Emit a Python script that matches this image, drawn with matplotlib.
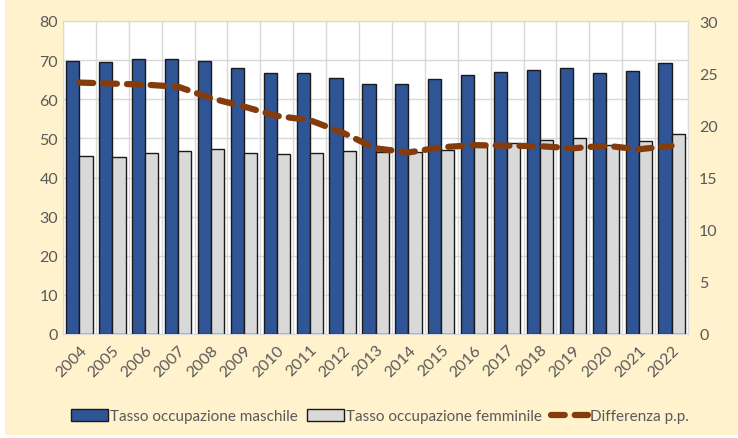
import numpy as np
import matplotlib
matplotlib.use("Agg")
from matplotlib import pyplot as plt
from matplotlib.patches import Rectangle

anni = [str(y) for y in range(2004, 2023)]
maschile = [69.7, 69.5, 70.2, 70.4, 69.9, 67.9, 66.7, 66.6, 65.5, 63.8,
            64.0, 65.2, 66.2, 67.0, 67.5, 68.1, 66.6, 67.2, 69.3]
femminile = [45.5, 45.3, 46.3, 46.7, 47.2, 46.3, 46.0, 46.3, 46.8, 46.4,
             46.6, 47.0, 48.1, 48.9, 49.5, 50.1, 48.4, 49.3, 51.1]
differenza = [24.1, 24.0, 23.9, 23.7, 22.6, 21.8, 20.9, 20.5, 19.3, 17.8,
              17.4, 17.9, 18.1, 18.05, 18.0, 17.8, 18.05, 17.7, 18.05]

plt.rcParams["font.family"] = ["Lato", "DejaVu Sans"]
grigio = "#595959"
sfondo = "#FFF2CC"

fig = plt.figure(figsize=(7.38, 4.39), dpi=100, facecolor=sfondo)
# thin white strips at the left and bottom edges
fig.patches.append(Rectangle((0, 0), 5 / 738, 1, transform=fig.transFigure,
                             facecolor="white", edgecolor="none"))
fig.patches.append(Rectangle((0, 0), 1, 3 / 439, transform=fig.transFigure,
                             facecolor="white", edgecolor="none"))

ax = fig.add_axes([63 / 738, 104 / 439, 625 / 738, 313 / 439])
ax.set_facecolor("white")

x = np.arange(len(anni))
w = 0.4
b1 = ax.bar(x - w / 2, maschile, w, color="#2F5597", edgecolor="#1a1a1a",
            linewidth=1, label="Tasso occupazione maschile", zorder=3)
b2 = ax.bar(x + w / 2, femminile, w, color="#D9D9D9", edgecolor="#1a1a1a",
            linewidth=1, label="Tasso occupazione femminile", zorder=3)

ax.set_xlim(-0.5, len(anni) - 0.5)
ax.set_ylim(0, 80)
ax.set_yticks(range(0, 81, 10))
ax.set_xticks(x)
ax.set_xticklabels(anni, rotation=45, ha="right", rotation_mode="anchor")
ax.set_xticks(np.arange(-0.5, len(anni), 1), minor=True)
ax.grid(axis="y", color="#D9D9D9", linewidth=1, zorder=0)
ax.grid(axis="x", which="minor", color="#D9D9D9", linewidth=1, zorder=0)
ax.tick_params(axis="both", which="both", length=0, colors=grigio,
               labelsize=11.5)
ax.tick_params(axis="x", pad=6)
for s in ax.spines.values():
    s.set_color("#D9D9D9")

ax2 = ax.twinx()
ax2.set_ylim(0, 30)
ax2.set_yticks(range(0, 31, 5))
ln, = ax2.plot(x, differenza, color="#843C0C", linewidth=4.5,
               dashes=(2.2, 1.6), dash_capstyle="round",
               label="Differenza p.p.", zorder=4)
ax2.tick_params(axis="y", length=0, colors=grigio, labelsize=11.5, pad=8)
for s in ax2.spines.values():
    s.set_visible(False)

fig.legend(handles=[b1, b2, ln], loc="center", bbox_to_anchor=(0.515, 22 / 439),
           ncol=3, frameon=False, fontsize=11, handlelength=2.4,
           handleheight=0.8, handletextpad=0.15, columnspacing=0.6,
           labelcolor=grigio)

fig.savefig("out.png", dpi=100, facecolor=sfondo)
